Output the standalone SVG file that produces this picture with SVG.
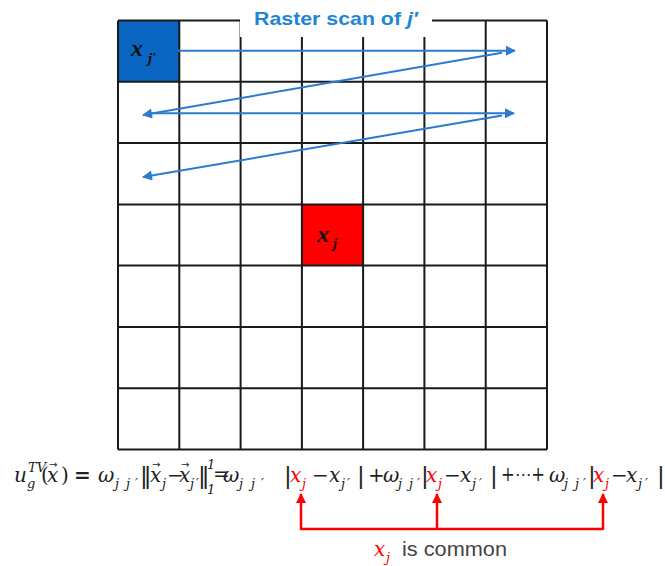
<svg xmlns="http://www.w3.org/2000/svg" width="665" height="566" viewBox="0 0 665 566">
<style>
.grid{stroke:#1a1a1a;stroke-width:2;fill:none}
.scan{stroke:#2b7bd0;stroke-width:2;fill:none}
.red{stroke:#ff0000;stroke-width:2.5;fill:none}
.m{font-family:"DejaVu Serif","Liberation Serif",serif;font-size:20px;fill:#222}
.mi{font-family:"DejaVu Serif","Liberation Serif",serif;font-style:italic;font-size:20px;fill:#222}
.sb{font-family:"DejaVu Serif","Liberation Serif",serif;font-style:italic;font-size:13px;fill:#222}
.va{font-family:"DejaVu Sans",sans-serif;font-size:10px;fill:#222}
.bar{font-family:"DejaVu Sans",sans-serif;font-size:23px;fill:#222}
.r{fill:#ff0000}
.lbl{font-family:"Liberation Serif","DejaVu Serif",serif;font-style:italic;font-weight:bold;fill:#111}
</style>
<defs>
<marker id="ab" viewBox="0 0 10 10" refX="9" refY="5" markerWidth="5.5" markerHeight="5" orient="auto" markerUnits="strokeWidth">
<path d="M0,0 L10,5 L0,10 z" fill="#2b7bd0"/>
</marker>
<marker id="ar" viewBox="0 0 10 10" refX="9" refY="5" markerWidth="4" markerHeight="4" orient="auto" markerUnits="strokeWidth">
<path d="M0,0 L10,5 L0,10 z" fill="#ff0000"/>
</marker>
</defs>
<rect width="665" height="566" fill="#ffffff"/>

<g id="cell-xjprime">
<rect x="118" y="21" width="61" height="61" fill="#0a66c2"/>
<text class="lbl" x="131" y="56" font-size="24">x</text>
<text class="lbl" x="148" y="63" font-size="15">j′</text>
</g>
<g id="cell-xj">
<rect x="302" y="204.5" width="61" height="61" fill="#ff0000"/>
<text class="lbl" x="317" y="242" font-size="24">x</text>
<text class="lbl" x="333" y="248" font-size="15">j</text>
</g>

<g id="grid">
<path class="grid" d="M118,20.5V449.5M179.3,20.5V449.5M240.6,20.5V449.5M301.9,20.5V449.5M363.1,20.5V449.5M424.4,20.5V449.5M485.7,20.5V449.5M547,20.5V449.5M118,20.5H547M118,81.8H547M118,143.1H547M118,204.4H547M118,265.6H547M118,326.9H547M118,388.2H547M118,449.5H547"/>
</g>

<g id="title">
<rect x="240" y="0" width="192" height="37" fill="#ffffff"/>
<text x="254" y="25" font-family="Liberation Sans, Arial, sans-serif" font-weight="bold" font-size="19" fill="#1f86d6" textLength="164" lengthAdjust="spacingAndGlyphs">Raster scan of <tspan font-style="italic">j′</tspan></text>
</g>

<g id="connectors">
<line class="scan" x1="178" y1="50.7" x2="515" y2="50.7" marker-end="url(#ab)"/>
<line class="scan" x1="502" y1="52.7" x2="143" y2="115" marker-end="url(#ab)"/>
<line class="scan" x1="150" y1="113.3" x2="514" y2="113.3" marker-end="url(#ab)"/>
<line class="scan" x1="502" y1="115.5" x2="143" y2="177" marker-end="url(#ab)"/>
<path class="red" d="M301,529H603"/>
<line class="red" x1="301" y1="530" x2="301" y2="494" marker-end="url(#ar)"/>
<line class="red" x1="437" y1="529" x2="437" y2="494" marker-end="url(#ar)"/>
<line class="red" x1="603" y1="530" x2="603" y2="494" marker-end="url(#ar)"/>
</g>

<g id="formula">
<text class="mi" x="14" y="482">u</text>
<text class="sb" x="27" y="488">g</text>
<text class="sb" x="28" y="472" font-size="11">TV</text>
<text class="m" x="41" y="482">(</text>
<text class="mi" x="47" y="482">x</text>
<text class="va" x="49" y="468">→</text>
<text class="m" x="61" y="482">)</text>
<text class="m" x="74" y="482" font-weight="bold">=</text>
<text class="mi" x="98" y="482">ω</text>
<text class="sb" x="115 126 135" y="488">jj′</text>
<text class="bar" x="140" y="484">‖</text>
<text class="mi" x="150" y="482">x</text>
<text class="va" x="152" y="468">→</text>
<text class="sb" x="162" y="488">j</text>
<text class="m" x="167" y="482">−</text>
<text class="mi" x="179" y="482">x</text>
<text class="va" x="181" y="468">→</text>
<text class="sb" x="190 196" y="488">j′</text>
<text class="bar" x="198" y="484">‖</text>
<text class="sb" x="207" y="469" font-style="normal" font-size="11">1</text>
<text class="sb" x="207" y="494" font-style="normal" font-size="11">1</text>
<text class="m" x="213" y="481" font-size="12" fill="#999">=</text>
<text class="mi" x="223" y="482">ω</text>
<text class="sb" x="239 251 261" y="488">jj′</text>
<text class="bar" x="284" y="484">|</text>
<text class="mi r" x="290" y="482">x</text>
<text class="sb r" x="302" y="488">j</text>
<text class="m" x="312" y="482">−</text>
<text class="mi" x="329" y="482">x</text>
<text class="sb" x="341 347" y="488">j′</text>
<text class="bar" x="357" y="484">|</text>
<text class="m" x="368" y="482">+</text>
<text class="mi" x="383" y="482">ω</text>
<text class="sb" x="398 409 417" y="488">jj′</text>
<text class="bar" x="421" y="484">|</text>
<text class="mi r" x="426" y="482">x</text>
<text class="sb r" x="438" y="488">j</text>
<text class="m" x="444" y="482">−</text>
<text class="mi" x="460" y="482">x</text>
<text class="sb" x="472 479" y="488">j′</text>
<text class="bar" x="490" y="484">|</text>
<text class="m" x="501" y="481" font-size="15" fill="#999" textLength="44" lengthAdjust="spacingAndGlyphs">+⋯+</text>
<text class="mi" x="549" y="482">ω</text>
<text class="sb" x="564 575 583" y="488">jj′</text>
<text class="bar" x="588" y="484">|</text>
<text class="mi r" x="593" y="482">x</text>
<text class="sb r" x="605" y="488">j</text>
<text class="m" x="611" y="482">−</text>
<text class="mi" x="626" y="482">x</text>
<text class="sb" x="638 645" y="488">j′</text>
<text class="bar" x="657" y="484">|</text>
</g>

<g id="note">
<text class="mi r" x="374" y="556" font-size="20">x</text>
<text class="sb r" x="386" y="562" font-size="13">j</text>
<text x="402" y="556" font-family="Liberation Sans, Arial, sans-serif" font-size="20" fill="#444" textLength="105" lengthAdjust="spacingAndGlyphs">is common</text>
</g>
</svg>
